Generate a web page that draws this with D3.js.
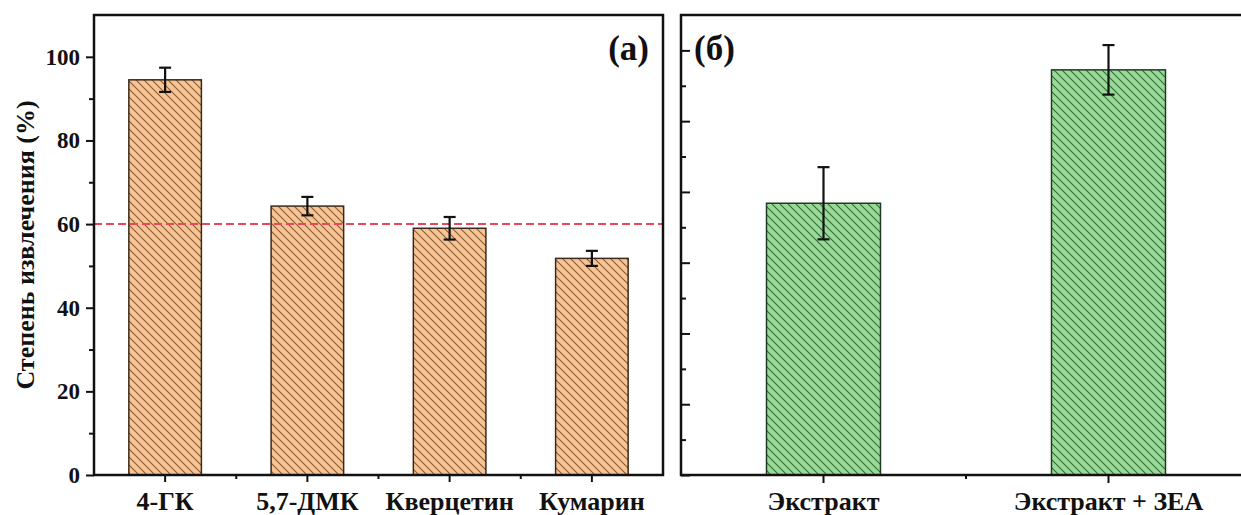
<!DOCTYPE html>
<html>
<head>
<meta charset="utf-8">
<script src="https://cdn.jsdelivr.net/npm/d3@7"></script>
<style>
  body { margin: 0; background: #fff; }
  svg text { font-family: "Liberation Serif", "Times New Roman", serif; font-weight: bold; fill: #111; }
</style>
</head>
<body>
<div id="chart"></div>
<script>
// panel (a)
let leftCategories = ["4-ГК", "5,7-ДМК", "Кверцетин", "Кумарин"];
let leftValues = [94.5, 64.3, 59.0, 51.8];
let leftErrors = [2.9, 2.2, 2.7, 1.8];
let leftMajorTicks = [0, 20, 40, 60, 80, 100];
let leftMinorTicks = [10, 30, 50, 70, 90];
let refLine = 60;

// panel (б) - no tick labels in the original
let rightCategories = ["Экстракт", "Экстракт + ЗЕА"];
let rightValues = [76.8, 114.5];
let rightErrors = [10.2, 7.0];
let rightMajorTicks = [0, 20, 40, 60, 80, 100, 120];
let rightMinorTicks = [10, 30, 50, 70, 90, 110];

let W = 1241, H = 515;
let plotTop = 15, plotBottom = 475;

let svg = d3.select("#chart").append("svg")
    .attr("width", W)
    .attr("height", H);

let defs = svg.append("defs");
function hatch(id, fill, line) {
    let p = defs.append("pattern")
        .attr("id", id)
        .attr("patternUnits", "userSpaceOnUse")
        .attr("width", 8).attr("height", 8);
    p.append("rect").attr("width", 8).attr("height", 8).attr("fill", fill);
    p.append("path")
        .attr("d", "M-1,-1 L9,9 M-3,5 L3,11 M5,-3 L11,3")
        .attr("stroke", line)
        .attr("stroke-width", 1.1);
}
hatch("hatchOrange", "#f7c595", "#8a5a33");
hatch("hatchGreen", "#9ad99a", "#2f6e32");

function styleAxis(g) {
    g.select(".domain").remove();
    g.selectAll(".tick line").attr("stroke", "#111").attr("stroke-width", 2);
}

// ---------- panel (a) ----------
let xL = d3.scaleBand().domain(leftCategories).range([94, 663])
    .paddingInner(0.49).paddingOuter(0.245);
let yL = d3.scaleLinear().domain([0, 110]).range([plotBottom, plotTop]);

let gA = svg.append("g");

gA.append("g").attr("transform", `translate(94,0)`)
    .call(d3.axisLeft(yL).tickValues(leftMinorTicks).tickSize(5).tickFormat(""))
    .call(styleAxis);
gA.append("g").attr("transform", `translate(94,0)`)
    .call(d3.axisLeft(yL).tickValues(leftMajorTicks).tickSize(8).tickPadding(6))
    .call(styleAxis)
    .selectAll("text").style("font-size", "23px");

gA.append("g").attr("transform", `translate(0,${plotBottom})`)
    .call(d3.axisBottom(xL).tickSize(7).tickPadding(10))
    .call(styleAxis)
    .selectAll("text").style("font-size", "26px");

// minor x ticks between categories
let stepL = xL.step();
gA.selectAll("line.minorx")
    .data(leftCategories.slice(0, -1))
    .enter().append("line")
    .attr("x1", d => xL(d) + xL.bandwidth() / 2 + stepL / 2)
    .attr("x2", d => xL(d) + xL.bandwidth() / 2 + stepL / 2)
    .attr("y1", plotBottom).attr("y2", plotBottom + 4)
    .attr("stroke", "#111").attr("stroke-width", 2);

gA.selectAll("rect.bar")
    .data(leftCategories)
    .enter().append("rect")
    .attr("class", "bar")
    .attr("x", d => xL(d))
    .attr("y", (d, i) => yL(leftValues[i]))
    .attr("width", xL.bandwidth())
    .attr("height", (d, i) => yL(0) - yL(leftValues[i]))
    .attr("fill", "url(#hatchOrange)")
    .attr("stroke", "#3b2a1c")
    .attr("stroke-width", 1.5);

// reference line
gA.append("line")
    .attr("x1", 94).attr("x2", 663)
    .attr("y1", yL(refLine)).attr("y2", yL(refLine))
    .attr("stroke", "#e8475e")
    .attr("stroke-width", 2)
    .attr("stroke-dasharray", "8,4");

function errorBars(g, cats, vals, errs, x, y) {
    let eb = g.selectAll("g.err").data(cats).enter().append("g").attr("class", "err");
    let cx = d => x(d) + x.bandwidth() / 2;
    eb.append("line")
        .attr("x1", cx).attr("x2", cx)
        .attr("y1", (d, i) => y(vals[i] + errs[i]))
        .attr("y2", (d, i) => y(vals[i] - errs[i]));
    eb.append("line")
        .attr("x1", d => cx(d) - 6).attr("x2", d => cx(d) + 6)
        .attr("y1", (d, i) => y(vals[i] + errs[i]))
        .attr("y2", (d, i) => y(vals[i] + errs[i]));
    eb.append("line")
        .attr("x1", d => cx(d) - 6).attr("x2", d => cx(d) + 6)
        .attr("y1", (d, i) => y(vals[i] - errs[i]))
        .attr("y2", (d, i) => y(vals[i] - errs[i]));
    eb.selectAll("line").attr("stroke", "#111").attr("stroke-width", 2.2);
}
errorBars(gA, leftCategories, leftValues, leftErrors, xL, yL);

// frame
gA.append("rect")
    .attr("x", 94).attr("y", plotTop)
    .attr("width", 663 - 94).attr("height", plotBottom - plotTop)
    .attr("fill", "none").attr("stroke", "#111").attr("stroke-width", 2.5);

gA.append("text")
    .attr("x", 649).attr("y", 60)
    .attr("text-anchor", "end")
    .style("font-size", "35px")
    .text("(a)");

svg.append("text")
    .attr("transform", `translate(34,${(plotTop + plotBottom) / 2}) rotate(-90)`)
    .attr("text-anchor", "middle")
    .style("font-size", "26px")
    .text("Степень извлечения (%)");

// ---------- panel (б) ----------
let xR = d3.scaleBand().domain(rightCategories).range([681, 1251])
    .paddingInner(0.6).paddingOuter(0.3);
let yR = d3.scaleLinear().domain([0, 130]).range([plotBottom, plotTop]);

let gB = svg.append("g");

gB.append("g").attr("transform", `translate(681,0)`)
    .call(d3.axisRight(yR).tickValues(rightMinorTicks).tickSize(5).tickFormat(""))
    .call(styleAxis);
gB.append("g").attr("transform", `translate(681,0)`)
    .call(d3.axisRight(yR).tickValues(rightMajorTicks).tickSize(9).tickFormat(""))
    .call(styleAxis);

gB.append("g").attr("transform", `translate(0,${plotBottom})`)
    .call(d3.axisBottom(xR).tickSize(8).tickPadding(9))
    .call(styleAxis)
    .selectAll("text").style("font-size", "26px");

let stepR = xR.step();
gB.selectAll("line.minorx")
    .data(rightCategories.slice(0, -1))
    .enter().append("line")
    .attr("x1", d => xR(d) + xR.bandwidth() / 2 + stepR / 2)
    .attr("x2", d => xR(d) + xR.bandwidth() / 2 + stepR / 2)
    .attr("y1", plotBottom).attr("y2", plotBottom + 4)
    .attr("stroke", "#111").attr("stroke-width", 2);

gB.selectAll("rect.bar")
    .data(rightCategories)
    .enter().append("rect")
    .attr("class", "bar")
    .attr("x", d => xR(d))
    .attr("y", (d, i) => yR(rightValues[i]))
    .attr("width", xR.bandwidth())
    .attr("height", (d, i) => yR(0) - yR(rightValues[i]))
    .attr("fill", "url(#hatchGreen)")
    .attr("stroke", "#1f3d20")
    .attr("stroke-width", 1.5);

errorBars(gB, rightCategories, rightValues, rightErrors, xR, yR);

gB.append("rect")
    .attr("x", 681).attr("y", plotTop)
    .attr("width", 1251 - 681).attr("height", plotBottom - plotTop)
    .attr("fill", "none").attr("stroke", "#111").attr("stroke-width", 2.5);

gB.append("text")
    .attr("x", 694).attr("y", 60)
    .style("font-size", "35px")
    .text("(б)");
</script>
</body>
</html>
